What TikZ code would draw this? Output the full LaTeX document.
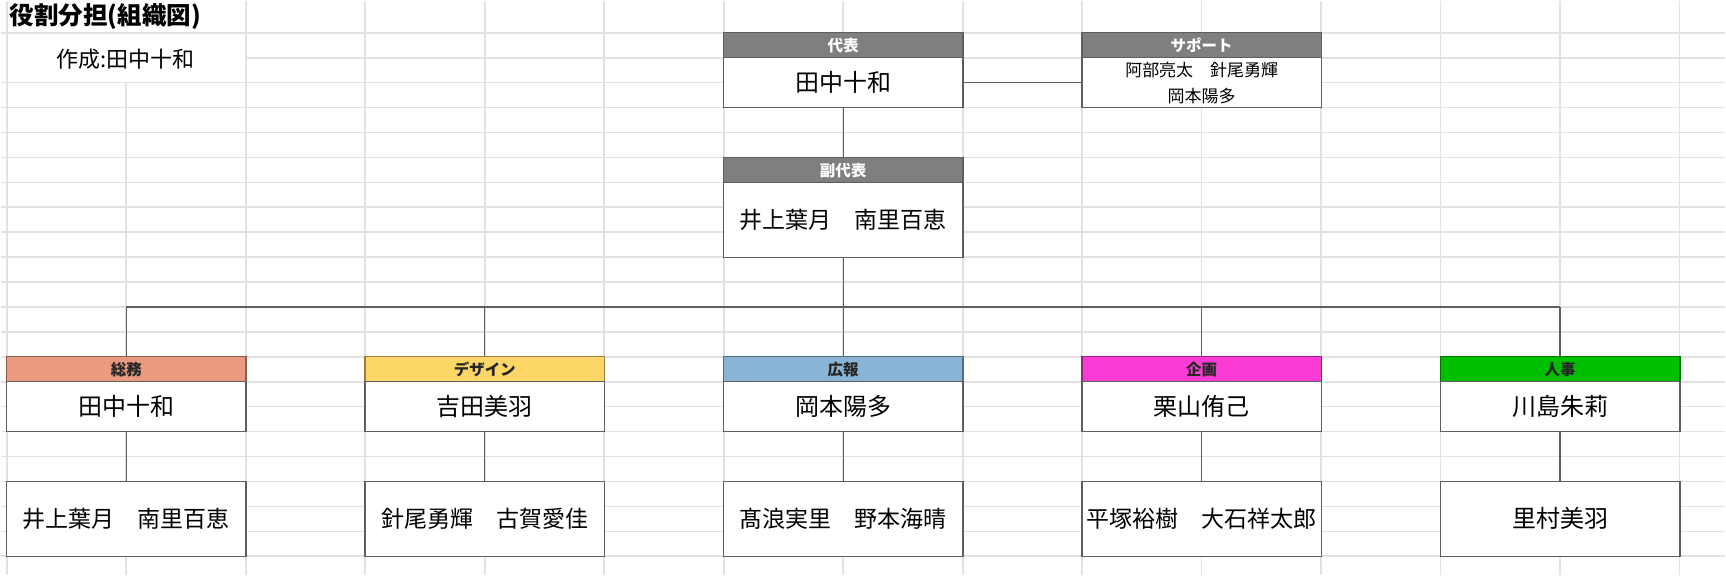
\documentclass[tikz,border=0pt]{standalone}
\usepackage{fontspec}
\setmainfont{Noto Sans CJK JP}
\definecolor{gridc}{HTML}{E2E2E2}
\definecolor{boxc}{HTML}{5E5E5E}
\definecolor{hgray}{HTML}{7F7F7F}
\definecolor{hsalmon}{HTML}{E99A7F}
\definecolor{hyellow}{HTML}{FCD667}
\definecolor{hblue}{HTML}{89B4D6}
\definecolor{hpink}{HTML}{FA3CD5}
\definecolor{hgreen}{HTML}{00BF00}
\begin{document}
\begin{tikzpicture}[x=1pt,y=-1pt,
  gridline/.style={draw=gridc, line width=1.6pt},
  conn/.style={draw=boxc, line width=1.4pt},
  hdr/.style={rectangle, draw=#1!60!black, fill=#1, line width=1.4pt,
    minimum width=239.6pt, minimum height=25pt, inner sep=0pt,
    text=black!85, font=\fontsize{15.5}{16}\selectfont\bfseries},
  ghdr/.style={hdr=hgray, draw=boxc, text=white},
  bodybox/.style={rectangle, draw=boxc, fill=white, line width=1.4pt,
    minimum width=239.6pt, inner sep=0pt, align=center,
    font=\fontsize{23}{26}\selectfont},
  namebox/.style={bodybox, font=\fontsize{24}{26}\selectfont},
]
% background
\fill[white] (0,0) rectangle (1726,575);
% spreadsheet grid
\foreach \k in {0,2,3,...,21}{
  \draw[gridline] (0,{32+24.95*\k}) -- (1726,{32+24.95*\k});
}
\draw[gridline] (245.2,56.95) -- (1726,56.95);
\foreach \k in {0,2,3,...,14}{
  \draw[gridline] ({6+119.6*\k},0) -- ({6+119.6*\k},575);
}
\draw[gridline] (125.6,82) -- (125.6,575);

% title texts
\node[anchor=west, inner sep=0pt, font=\fontsize{24.5}{26}\selectfont\bfseries] (title) at (9,16) {役割分担(組織図)};
\node[inner sep=0pt, font=\fontsize{22}{24}\selectfont] (author) at (124.5,58) {作成:田中十和};

% top level
\node[ghdr] (daih) at (843.2,44.5) {代表};
\node[namebox, minimum height=50pt] (daib) at (843.2,82) {田中十和};
\node[ghdr] (suph) at (1202,44.5) {サポート};
\node[bodybox, minimum height=50pt, font=\fontsize{17}{26}\selectfont] (supb) at (1202,82) {阿部亮太　針尾勇輝\\岡本陽多};
\node[ghdr] (fukuh) at (843.2,169.5) {副代表};
\node[bodybox, minimum height=75pt] (fukub) at (843.2,219.2) {井上葉月　南里百恵};

% departments
\node[hdr=hsalmon] (h1) at (125.6,368.8) {総務};
\node[namebox, minimum height=50pt] (b1) at (125.6,406.2) {田中十和};
\node[bodybox, minimum height=75pt] (l1) at (125.6,518.5) {井上葉月　南里百恵};

\node[hdr=hyellow] (h2) at (484.4,368.8) {デザイン};
\node[namebox, minimum height=50pt] (b2) at (484.4,406.2) {吉田美羽};
\node[bodybox, minimum height=75pt] (l2) at (484.4,518.5) {針尾勇輝　古賀愛佳};

\node[hdr=hblue] (h3) at (843.2,368.8) {広報};
\node[namebox, minimum height=50pt] (b3) at (843.2,406.2) {岡本陽多};
\node[bodybox, minimum height=75pt] (l3) at (843.2,518.5) {髙浪実里　野本海晴};

\node[hdr=hpink] (h4) at (1202,368.8) {企画};
\node[namebox, minimum height=50pt] (b4) at (1202,406.2) {栗山侑己};
\node[bodybox, minimum height=75pt] (l4) at (1202,518.5) {平塚裕樹　大石祥太郎};

\node[hdr=hgreen] (h5) at (1560.8,368.8) {人事};
\node[namebox, minimum height=50pt] (b5) at (1560.8,406.2) {川島朱莉};
\node[namebox, minimum height=75pt] (l5) at (1560.8,518.5) {里村美羽};

% connectors
\coordinate (bus) at (843.2,306.45);
\coordinate (bus1) at (125.6,306.45);
\coordinate (bus2) at (484.4,306.45);
\coordinate (bus4) at (1202,306.45);
\coordinate (bus5) at (1560.8,306.45);
\draw[conn] (daib.east) -- (supb.west);
\draw[conn] (daib.south) -- (fukuh.north);
\draw[conn] (fukub.south) -- (bus);
\draw[conn] (bus1) -- (bus5);
\draw[conn] (bus1) -- (h1.north);
\draw[conn] (bus2) -- (h2.north);
\draw[conn] (bus) -- (h3.north);
\draw[conn] (bus4) -- (h4.north);
\draw[conn] (bus5) -- (h5.north);
\foreach \i in {1,...,5}{
  \draw[conn] (b\i.south) -- (l\i.north);
}
\end{tikzpicture}
\end{document}
